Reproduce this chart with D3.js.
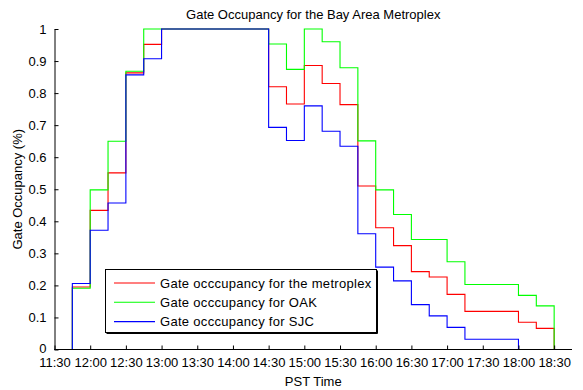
<!DOCTYPE html>
<html>
<head>
<meta charset="utf-8">
<script src="https://cdn.jsdelivr.net/npm/d3@7"></script>
<style>
  html, body { margin: 0; padding: 0; background: #fff; }
  svg { display: block; font-family: "Liberation Sans", Arial, Helvetica, sans-serif; }
</style>
</head>
<body>
<svg id="chart" width="583" height="390"></svg>
<script>
// Sample times in minutes after 11:30, every 15 minutes up to 18:45
const times = d3.range(0, 436, 15);

// Gate occupancy fraction at each sample (held until the next sample)
const metroplex = [0, 0.195, 0.434, 0.551, 0.863, 0.952, 1, 1, 1, 1, 1, 1,
  0.820, 0.766, 0.886, 0.830, 0.764, 0.510, 0.380, 0.324, 0.243, 0.226,
  0.172, 0.119, 0.119, 0.119, 0.085, 0.066, 0, 0];
const oak = [0, 0.191, 0.498, 0.650, 0.868, 1, 1, 1, 1, 1, 1, 1,
  0.953, 0.874, 1, 0.960, 0.879, 0.651, 0.498, 0.421, 0.343, 0.343,
  0.274, 0.203, 0.203, 0.203, 0.169, 0.136, 0, 0];
const sjc = [0, 0.206, 0.372, 0.457, 0.857, 0.907, 1, 1, 1, 1, 1, 1,
  0.693, 0.652, 0.760, 0.681, 0.634, 0.361, 0.257, 0.214, 0.140, 0.105,
  0.069, 0.032, 0.032, 0.032, 0, 0, 0, 0];

const seriesNames = ["Gate occcupancy for the metroplex", "Gate occcupancy for OAK", "Gate occcupancy for SJC"];
const seriesColors = ["#ff0000", "#00ff00", "#0000ff"];
const seriesValues = [metroplex, oak, sjc];

const xTickValues = d3.range(0, 421, 30);
const xTickLabels = ["11:30", "12:00", "12:30", "13:00", "13:30", "14:00", "14:30", "15:00",
  "15:30", "16:00", "16:30", "17:00", "17:30", "18:00", "18:30"];
const yTickValues = d3.range(0, 11).map(d => d / 10);
const yTickLabels = ["0", "0.1", "0.2", "0.3", "0.4", "0.5", "0.6", "0.7", "0.8", "0.9", "1"];

const svg = d3.select("#chart");
const plotLeft = 54.5, plotRight = 572, plotTop = 29, plotBottom = 349.5;

const x = d3.scaleLinear().domain([0, 435]).range([plotLeft, plotRight]);
const y = d3.scaleLinear().domain([0, 1]).range([plotBottom, plotTop]);

// Step lines
const line = d3.line()
  .x(d => x(d[0]))
  .y(d => y(d[1]))
  .curve(d3.curveStepAfter);

const plot = svg.append("g");
seriesValues.forEach((vals, i) => {
  plot.append("path")
    .datum(times.map((t, j) => [t, vals[j]]))
    .attr("fill", "none")
    .attr("stroke", seriesColors[i])
    .attr("stroke-width", 1.1)
    .attr("d", line);
});

// Axes with inward ticks
const xAxis = d3.axisBottom(x)
  .tickValues(xTickValues)
  .tickFormat((d, i) => xTickLabels[i])
  .tickSizeInner(-4)
  .tickSizeOuter(0)
  .tickPadding(8);
const gx = svg.append("g").attr("transform", `translate(0,${plotBottom})`).call(xAxis);
gx.select(".domain").attr("d", `M${plotLeft},0H${plotRight}`);

const yAxis = d3.axisLeft(y)
  .tickValues(yTickValues)
  .tickFormat((d, i) => yTickLabels[i])
  .tickSizeInner(-4)
  .tickSizeOuter(0)
  .tickPadding(8);
const gy = svg.append("g").attr("transform", `translate(${plotLeft},0)`).call(yAxis);

[gx, gy].forEach(g => {
  g.selectAll("text").attr("font-size", 13).attr("fill", "#000")
    .attr("font-family", "Liberation Sans, Arial, sans-serif");
  g.selectAll("line").attr("stroke", "#000");
  g.select(".domain").attr("stroke", "#000");
});
// the zero label sits a touch higher so it clears the time labels
gy.selectAll(".tick text").filter(d => d === 0).attr("dy", "0.2em");

// Title and axis labels
svg.append("text")
  .attr("x", (plotLeft + plotRight) / 2).attr("y", 19)
  .attr("text-anchor", "middle").attr("font-size", 13)
  .text("Gate Occupancy for the Bay Area Metroplex");

svg.append("text")
  .attr("x", (plotLeft + plotRight) / 2).attr("y", 386)
  .attr("text-anchor", "middle").attr("font-size", 13)
  .text("PST Time");

svg.append("text")
  .attr("transform", `translate(22,${(plotTop + plotBottom) / 2}) rotate(-90)`)
  .attr("text-anchor", "middle").attr("font-size", 13)
  .text("Gate Occupancy (%)");

// Legend
const lg = svg.append("g");
const lx = 105.5, ly = 269.5, lw = 271, lh = 63;
lg.append("rect").attr("x", lx).attr("y", ly).attr("width", lw).attr("height", lh)
  .attr("fill", "#fff").attr("stroke", "#000").attr("stroke-width", 1);
lg.append("path")
  .attr("d", `M${lx + 1},${ly + lh + 1}H${lx + lw + 1}V${ly + 1}`)
  .attr("fill", "none").attr("stroke", "#000").attr("stroke-width", 1);
seriesNames.forEach((name, i) => {
  const cy = 283 + i * 19.3;
  lg.append("line").attr("x1", 114).attr("x2", 155).attr("y1", cy).attr("y2", cy)
    .attr("stroke", seriesColors[i]).attr("stroke-width", 1.1);
  lg.append("text").attr("x", 160).attr("y", cy + 4.5).attr("font-size", 13)
    .attr("letter-spacing", 0.3).text(name);
});
</script>
</body>
</html>
